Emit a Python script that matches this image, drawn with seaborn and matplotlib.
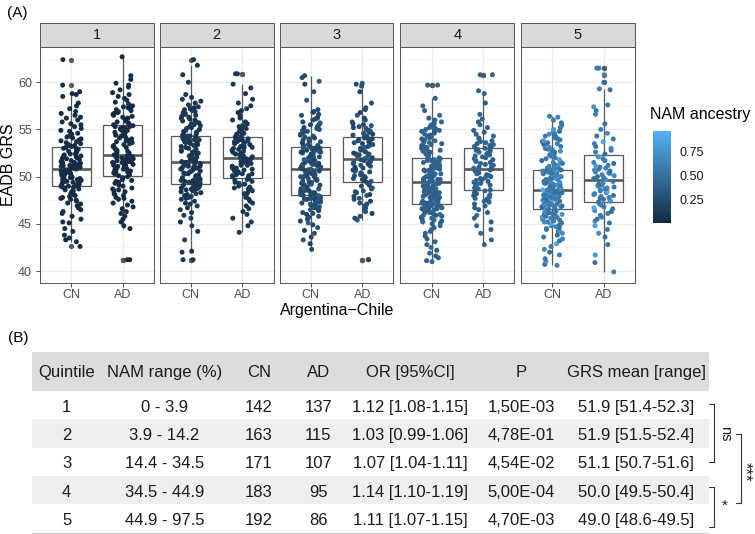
import numpy as np
import pandas as pd
import matplotlib
matplotlib.use("Agg")
import matplotlib.pyplot as plt
import seaborn as sns
from matplotlib.colors import LinearSegmentedColormap, Normalize
from matplotlib.patches import Rectangle
from matplotlib.lines import Line2D

# ---------------- data (GRS in tenths, NAM ancestry in percent) ----------------
QUINTILES = ["1", "2", "3", "4", "5"]
STATUS = ["CN", "AD"]

GRS_Q1_CN = [426,431,433,435,438,442,445,451,452,455,
             458,461,463,465,467,469,471,472,474,475,
             476,477,478,479,480,481,482,483,484,485,
             486,487,488,489,489,
             490,490,491,491,492,493,493,494,495,495,
             496,496,497,497,498,498,499,499,500,500,
             501,501,502,502,503,503,504,504,505,505,
             506,506,507,507,508,508,
             509,509,510,510,511,511,512,512,513,513,
             514,514,515,515,516,516,517,518,519,519,
             520,521,521,522,523,524,524,525,526,527,
             528,529,530,530,531,
             532,533,534,535,536,537,538,539,540,541,
             542,543,545,546,548,549,551,553,555,556,
             558,560,562,563,565,567,569,572,575,578,
             585,587,588,590,597,624]
GRS_Q1_AD = [412,412,445,448,452,455,458,461,463,466,
             468,470,472,474,476,477,478,480,481,482,
             484,485,486,487,488,490,491,493,494,495,
             496,497,499,500,
             501,502,503,504,505,505,506,507,508,508,
             509,510,511,511,512,512,513,514,514,515,
             515,516,516,517,517,518,518,519,519,520,
             520,521,521,522,
             523,524,525,526,527,528,529,530,531,532,
             533,534,535,536,537,538,539,540,541,542,
             543,544,545,546,547,548,549,550,551,552,
             552,553,553,554,
             555,556,557,558,559,560,561,562,563,564,
             565,566,567,568,569,570,571,572,573,574,
             575,577,579,581,583,585,587,589,592,595,
             597,599,603,607,627]
GRS_Q2_CN = [412,412,420,421,433,442,448,452,456,459,
             462,465,467,469,471,472,474,476,477,478,
             479,480,481,482,483,484,485,486,486,487,
             487,488,488,489,489,490,490,491,491,491,492,
             492,493,493,494,494,495,495,496,496,497,
             497,498,499,500,500,501,502,503,503,504,
             505,506,506,507,508,508,509,509,510,510,
             511,511,512,512,513,513,514,514,515,515,
             516,516,517,518,518,519,520,520,521,522,
             523,524,525,526,527,528,528,529,530,531,
             532,533,533,534,535,536,536,537,538,538,
             539,539,540,540,541,541,542,542,543,543,543,
             544,545,546,547,548,549,550,551,552,553,
             554,555,556,557,558,559,560,561,562,563,
             564,565,566,567,568,569,570,571,572,573,
             574,576,578,580,582,584,587,600,608,618,624]
GRS_Q2_AD = [441,448,452,456,460,463,466,469,472,474,
             476,478,480,482,483,485,486,487,488,489,
             490,491,492,493,494,495,496,497,498,
             499,500,501,501,502,503,503,504,505,506,
             506,507,508,509,509,510,511,512,512,513,
             514,515,516,516,517,518,519,519,
             520,521,522,523,524,524,525,526,527,528,
             529,530,531,531,532,533,534,535,535,536,
             537,537,538,538,539,539,540,540,541,
             542,543,544,545,546,547,548,549,550,551,
             552,553,554,556,558,560,562,565,568,570,
             572,575,578,582,588,594,598,609,609]
GRS_Q3_CN = [423,429,433,436,440,443,446,449,451,453,
             455,457,458,460,461,462,464,465,466,467,
             468,469,470,471,471,472,473,473,474,475,
             475,476,476,477,477,478,478,479,479,480,480,480,480,
             481,481,482,483,483,484,485,485,486,487,
             487,488,489,489,490,491,491,492,493,494,
             494,495,496,497,497,498,499,500,500,501,
             502,502,503,503,504,505,505,506,506,507,507,508,
             508,509,509,510,510,511,511,512,512,513,
             513,514,514,515,515,516,516,517,517,518,
             518,519,520,520,521,522,522,523,524,525,
             525,526,526,527,527,528,528,529,529,530,530,531,531,
             532,533,533,534,535,536,537,538,539,540,
             541,542,543,544,545,546,547,548,549,550,
             551,552,553,554,555,556,557,558,560,561,
             562,563,565,566,568,569,571,581,590,598,601,605,607]
GRS_Q3_AD = [412,412,454,456,458,461,463,465,467,469,
             471,472,474,476,477,479,480,481,483,484,
             485,487,488,490,491,493,494,
             495,496,497,498,499,500,501,502,503,504,
             505,506,507,508,509,510,511,512,513,514,
             514,515,516,517,518,518,
             519,520,521,522,523,524,524,525,526,527,
             528,529,530,531,532,533,534,535,536,537,
             537,538,539,540,540,541,541,
             542,543,544,545,546,547,548,549,550,551,
             552,553,554,555,556,558,560,562,565,568,
             571,573,578,590,596,598,599]
GRS_Q4_CN = [410,411,414,416,419,422,425,428,431,434,
             437,440,442,444,446,448,450,451,452,453,
             454,455,456,457,458,459,459,460,461,462,
             462,463,464,464,465,466,466,467,467,468,
             468,469,469,470,470,471,
             471,472,472,473,473,474,474,475,475,476,
             476,477,477,478,478,479,479,480,480,481,
             481,482,482,483,483,484,484,485,485,486,
             486,487,487,488,488,489,489,490,490,491,
             491,492,492,493,494,
             494,495,495,496,496,497,497,498,498,499,
             499,500,500,501,501,502,502,503,503,504,
             504,505,505,506,506,507,507,508,508,509,
             509,510,511,511,512,512,513,514,514,515,
             515,516,517,517,518,519,
             520,521,522,523,524,525,526,527,528,529,
             530,531,532,533,534,535,536,537,538,539,
             540,541,542,543,544,545,546,547,548,549,
             550,551,552,553,554,555,556,558,560,562,
             565,570,575,583,597,597]
GRS_Q4_AD = [428,433,440,444,448,452,456,459,462,465,
             467,469,471,473,474,476,477,478,479,480,
             481,482,483,485,
             486,487,488,489,490,491,492,493,494,495,
             496,497,498,499,500,501,502,503,504,505,
             506,507,507,
             508,509,510,511,512,513,514,515,516,517,
             518,519,520,521,522,523,524,525,526,527,
             528,529,529,530,
             531,532,533,534,535,536,537,538,540,541,
             543,545,547,549,552,555,558,561,566,578,
             588,591,608,608]
GRS_Q5_CN = [406,407,410,413,417,420,423,426,429,432,
             434,436,438,440,442,443,444,445,446,447,
             448,449,450,451,452,452,453,454,454,455,
             456,456,457,457,458,459,459,460,460,461,
             461,462,462,463,464,464,465,466,
             466,467,467,468,468,469,469,470,470,471,
             471,472,472,473,473,474,474,475,475,476,
             476,477,477,478,478,479,479,480,480,480,
             481,481,481,482,482,482,483,483,483,484,
             484,484,484,485,485,485,485,485,
             486,486,486,487,487,488,488,489,489,490,
             490,491,491,492,492,493,493,494,494,495,
             495,496,496,497,497,498,498,499,499,500,
             500,501,501,502,502,503,503,504,504,505,
             505,505,506,506,506,507,507,507,
             508,509,510,511,512,513,514,515,516,517,
             518,519,520,521,522,523,524,525,526,527,
             528,529,530,531,532,533,534,535,536,537,
             538,539,540,541,542,543,544,545,546,547,
             548,550,552,554,557,560,563,564]
GRS_Q5_AD = [399,409,417,428,436,440,444,448,451,453,
             455,457,459,461,463,464,466,467,468,470,
             471,473,
             474,475,476,477,478,479,480,481,482,483,
             484,485,486,487,488,489,490,491,492,493,
             495,
             497,498,499,500,501,502,503,504,505,506,
             507,508,509,510,511,512,514,515,517,519,
             521,
             524,526,528,530,532,535,537,540,543,546,
             550,556,566,570,574,576,592,593,600,608,
             615,615]

NAM_Q1_CN = [1,3,0,2,2,4,1,0,3,2, 1,2,3,0,1,2,2,3,1,0, 2,3,1,1,0,2,3,4,2,1,
             0,1,2,3,2,1,3,0,2,1, 3,2,1,0,2,1,3,2,0,1, 2,1,3,2,2,0,1,3,1,2,
             0,2,1,3,2,1,0,2,3,1, 2,2,1,0,3,1,2,2,1,3, 0,1,2,3,1,2,0,2,1,3,
             2,1,2,0,3,2,1,1,2,0, 3,1,2,2,1,0,3,2,1,2, 1,3,0,2,1,2,3,1,0,2,
             2,1,3,1,2,0,2,3,1,2, 1,0,2,3,2,1,3,2,1,0, 2,3]
NAM_Q1_AD = [2,1,0,3,2,1,2,3,1,0, 1,2,3,2,0,1,2,1,3,2, 0,3,1,2,2,1,0,2,3,1,
             2,1,3,0,2,2,1,3,1,2, 0,1,2,3,1,2,2,0,1,3, 2,1,0,2,3,1,2,2,1,0,
             3,2,1,2,0,1,3,2,2,1, 1,0,2,3,2,1,2,0,3,1, 2,3,1,0,2,1,2,3,1,2,
             0,2,1,3,2,1,0,2,1,3, 2,1,2,0,3,1,2,2,1,0, 3,1,2,1,0,2,3,2,1,2,
             1,2,0,3,1,2,2,1,3,0, 2,1,3,2,0,1,2]
NAM_Q2_CN = [8,5,11,7,13,6,9,4,12,10, 7,9,6,14,8,5,10,12,7,9, 11,6,8,13,5,9,7,10,12,6,
             8,4,11,9,7,13,10,6,8,12, 5,9,7,11,8,14,6,10,9,7, 12,8,5,10,13,7,9,6,11,8,
             10,7,12,5,9,8,13,6,10,11, 7,9,4,8,12,6,10,9,7,13, 8,11,6,9,5,10,12,7,8,9,
             13,6,10,8,11,7,5,9,12,8, 6,10,7,13,9,8,11,5,10,7, 12,9,6,8,14,7,10,11,8,6,
             9,13,7,10,5,8,12,9,6,11, 8,7,10,13,9,6,12,8,5,10, 11,7,9,8,13,6,10,7,12,9,
             8,5,11,10,7,9,13,6,8,12, 10,7,9]
NAM_Q2_AD = [9,6,12,8,10,5,13,7,11,9, 7,10,8,14,6,9,12,5,10,8, 11,7,9,13,6,10,8,12,7,9,
             5,11,8,10,13,7,9,6,12,8, 10,9,7,11,5,8,13,10,6,9, 12,7,8,10,11,6,9,13,7,8,
             10,5,12,9,7,11,8,6,10,13, 9,7,12,8,10,6,11,9,5,8, 13,10,7,9,12,6,8,11,10,7,
             9,14,6,10,8,12,7,9,11,5, 8,10,13,7,9,6,12,8,10,11, 7,9,8,6,12]
NAM_Q3_CN = [24,17,31,20,27,15,29,22,34,19, 26,21,30,16,25,28,18,33,23,20,
             27,31,17,24,29,21,35,19,26,22, 30,15,25,28,20,32,23,18,27,24,
             21,33,26,17,29,22,31,19,25,28, 16,23,30,20,26,34,18,27,21,24,
             29,17,32,22,25,19,28,23,31,20, 26,15,30,24,18,27,33,21,25,29,
             22,19,28,24,31,17,26,20,35,23, 27,18,30,25,21,29,16,24,32,22,
             26,19,28,23,31,20,25,17,29,27, 21,33,24,18,26,30,22,28,15,25,
             23,31,19,27,24,20,34,26,18,29, 22,25,30,17,28,21,24,32,19,26,
             27,20,23,31,16,25,29,22,28,18, 33,24,21,26,30,19,27,23,25,20,
             28,22,31,17,24,29,26,21,34,23, 25]
NAM_Q3_AD = [26,19,31,22,28,16,24,33,20,27, 23,30,18,25,29,21,34,17,26,24,
             28,20,32,23,19,27,25,30,15,22, 29,24,18,26,31,21,27,23,33,20,
             25,28,17,24,30,22,26,19,29,23, 31,18,27,25,21,34,24,20,28,26,
             16,30,23,27,19,25,32,22,28,24, 21,29,26,18,31,23,27,20,25,33,
             22,28,24,17,30,26,19,29,23,25, 21,27,32,24,18,28,26,22,30,20,
             25,23,29,19,27,24,31]
NAM_Q4_CN = [40,37,43,39,41,36,44,38,42,40, 38,41,36,43,39,42,37,40,45,38,
             41,39,43,37,40,42,36,44,39,41, 38,42,40,37,43,39,41,36,40,44,
             37,42,39,41,38,43,40,36,42,39, 41,38,44,40,37,42,39,43,41,38,
             36,40,42,39,44,37,41,40,38,43, 39,42,37,41,40,36,43,38,42,39,
             40,44,38,41,37,42,39,40,43,36, 41,38,42,40,39,44,37,41,38,42,
             39,43,40,36,41,38,42,39,44,40, 37,41,39,43,38,42,40,37,41,39,
             43,36,40,42,38,41,39,44,37,40, 42,38,41,39,43,40,36,42,38,41,
             39,44,40,37,42,39,41,38,43,40, 36,41,39,42,38,44,40,37,41,39,
             42,38,43,40,36,41,39,42,37,40, 44,38,41,39,42,40,37,43,38,41,
             39,42,40]
NAM_Q4_AD = [41,38,43,39,40,36,42,44,37,41, 39,42,38,40,43,37,41,39,45,38,
             42,40,36,41,39,43,38,42,40,37, 44,39,41,38,42,40,36,43,39,41,
             38,42,37,40,44,39,41,38,43,40, 36,42,39,41,37,40,43,38,42,39,
             41,44,37,40,38,42,39,43,41,36, 40,38,42,39,41,37,44,40,38,43,
             39,41,42,37,40,38,43,39,41,40, 36,42,39,41,38]
NAM_Q5_CN = [58,49,72,53,61,47,66,55,84,51, 63,57,48,69,52,77,60,54,46,65,
             59,50,88,56,62,71,49,53,67,58, 47,64,55,80,51,60,57,74,48,62,
             53,68,50,59,91,56,61,49,70,54, 58,46,65,52,78,57,63,50,55,69,
             60,48,73,54,59,66,51,86,56,62, 49,58,64,53,47,71,57,60,52,82,
             55,67,50,61,58,48,75,54,63,56, 51,69,59,46,65,53,93,57,60,50,
             62,55,70,48,58,66,52,79,56,61, 49,64,54,59,72,51,57,47,68,60,
             53,85,56,62,50,58,67,54,49,76, 61,55,63,52,59,70,48,57,65,53,
             60,90,51,58,66,55,49,62,73,56, 50,64,58,47,81,54,61,59,68,52,
             57,63,49,71,55,60,53,66,58,87, 51,62,56,48,74,59,54,65,50,61,
             57,69,53,60,48,77,55,63,52,58, 64,56]
NAM_Q5_AD = [60,52,74,56,49,67,58,83,54,63, 50,71,57,61,48,65,55,89,59,53,
             68,51,62,78,56,47,64,58,52,70, 60,55,85,49,66,57,61,53,72,59,
             50,63,56,76,54,58,48,67,62,92, 55,60,51,69,57,64,53,81,58,49,
             66,56,61,73,52,59,55,65,50,62, 87,57,54,68,60,51,63,58,75,56,
             53,61,49,66,59,57]

GRS_SETS = [(GRS_Q1_CN, GRS_Q1_AD), (GRS_Q2_CN, GRS_Q2_AD), (GRS_Q3_CN, GRS_Q3_AD),
            (GRS_Q4_CN, GRS_Q4_AD), (GRS_Q5_CN, GRS_Q5_AD)]
NAM_SETS = [(NAM_Q1_CN, NAM_Q1_AD), (NAM_Q2_CN, NAM_Q2_AD), (NAM_Q3_CN, NAM_Q3_AD),
            (NAM_Q4_CN, NAM_Q4_AD), (NAM_Q5_CN, NAM_Q5_AD)]

# table content
TABLE_HEADER = ["Quintile", "NAM range (%)", "CN", "AD", "OR [95%CI]", "P", "GRS mean [range]"]
NAM_RANGE = ["0 - 3.9", "3.9 - 14.2", "14.4 - 34.5", "34.5 - 44.9", "44.9 - 97.5"]
N_CN = [142, 163, 171, 183, 192]
N_AD = [137, 115, 107, 95, 86]
OR_CI = ["1.12 [1.08-1.15]", "1.03 [0.99-1.06]", "1.07 [1.04-1.11]", "1.14 [1.10-1.19]", "1.11 [1.07-1.15]"]
P_VAL = ["1,50E-03", "4,78E-01", "4,54E-02", "5,00E-04", "4,70E-03"]
GRS_MEAN = ["51.9 [51.4-52.3]", "51.9 [51.5-52.4]", "51.1 [50.7-51.6]", "50.0 [49.5-50.4]", "49.0 [48.6-49.5]"]

records = []
for q, (gc, ga), (nc, na) in zip(QUINTILES, GRS_SETS, NAM_SETS):
    for g, n in zip(gc, nc):
        records.append((q, "CN", g / 10.0, n / 100.0))
    for g, n in zip(ga, na):
        records.append((q, "AD", g / 10.0, n / 100.0))
df = pd.DataFrame(records, columns=["quintile", "status", "grs", "nam"])

# ---------------- styling ----------------
sns.set_theme(style="white")
plt.rcParams["font.family"] = ["Liberation Sans", "DejaVu Sans"]

W, H = 755, 534
fig = plt.figure(figsize=(W / 100, H / 100), dpi=100)
fig.patch.set_facecolor("white")


def rect(x, y, w, h):
    return [x / W, 1 - (y + h) / H, w / W, h / H]


def fx(x):
    return x / W


def fy(y):
    return 1 - y / H


cmap = LinearSegmentedColormap.from_list("nam", ["#132B43", "#56B1F7"])
NORM = (0.0, 0.975)
BOX_C = "#595959"
EDGE_C = "#555555"

panel_x = [40, 159.5, 279.5, 400.5, 521]
PW = 114
P_TOP, P_H = 46.7, 236.6

for i, q in enumerate(QUINTILES):
    ax = fig.add_axes(rect(panel_x[i], P_TOP, PW, P_H))
    sub = df[df["quintile"] == q]
    sns.boxplot(data=sub, x="status", y="grs", order=STATUS, ax=ax, width=0.75,
                color="white", linecolor=BOX_C, linewidth=0.9, showcaps=False,
                flierprops=dict(marker="o", markerfacecolor=BOX_C, markeredgecolor=BOX_C,
                                markersize=3.8, markeredgewidth=0),
                medianprops=dict(linewidth=1.9, color=BOX_C))
    sns.stripplot(data=sub, x="status", y="grs", order=STATUS, hue="nam", palette=cmap,
                  hue_norm=NORM, jitter=0.2, size=3.6, legend=False, ax=ax,
                  zorder=3, linewidth=0)
    ax.set_xlim(-0.6, 1.6)
    ax.set_ylim(38.70, 63.77)
    ax.set_xlabel("")
    ax.set_ylabel("")
    ax.set_yticks([40, 45, 50, 55, 60])
    ax.set_yticks(np.arange(42.5, 63, 5), minor=True)
    ax.set_axisbelow(True)
    ax.grid(True, which="major", color="#EBEBEB", lw=0.9)
    ax.grid(True, which="minor", axis="y", color="#F3F3F3", lw=0.5)
    ax.tick_params(axis="x", bottom=True, length=2.75, width=0.6, color="#333333",
                   labelsize=9, labelcolor="#4D4D4D", pad=1.2, direction="out")
    ax.tick_params(axis="y", which="minor", left=False)
    if i == 0:
        ax.tick_params(axis="y", which="major", left=True, length=2.75, width=0.6,
                       color="#333333", labelsize=9, labelcolor="#4D4D4D", pad=3)
    else:
        ax.tick_params(axis="y", which="major", left=False, labelleft=False)
    for s in ax.spines.values():
        s.set_visible(True)
        s.set_color(EDGE_C)
        s.set_linewidth(0.7)

    sax = fig.add_axes(rect(panel_x[i], 22.7, PW, 24))
    sax.set_facecolor("#D9D9D9")
    sax.set_xticks([])
    sax.set_yticks([])
    for s in sax.spines.values():
        s.set_visible(True)
        s.set_color(EDGE_C)
        s.set_linewidth(0.7)
    sax.text(0.5, 0.5, q, ha="center", va="center", fontsize=10.5, color="#1A1A1A",
             transform=sax.transAxes)

fig.text(fx(337.5), fy(310), "Argentina\u2212Chile", ha="center", va="center",
         fontsize=11.5, color="black")
fig.text(fx(8.5), fy(165), "EADB GRS", rotation=90, ha="center", va="center",
         fontsize=11.5, color="black")
fig.text(fx(17), fy(13.3), "(A)", ha="center", va="center", fontsize=11, color="black")
fig.text(fx(18), fy(338), "(B)", ha="center", va="center", fontsize=11, color="black")

# colour bar legend
cax = fig.add_axes(rect(652.7, 130.7, 18, 92))
sm = plt.cm.ScalarMappable(norm=Normalize(*NORM), cmap=cmap)
cb = fig.colorbar(sm, cax=cax, ticks=[0.25, 0.5, 0.75])
cb.outline.set_visible(False)
cb.ax.set_yticklabels(["0.25", "0.50", "0.75"])
cb.ax.tick_params(axis="y", which="both", direction="in", length=3.2, width=0.6,
                  color="white", left=True, right=True, labelleft=False,
                  labelright=True, labelsize=9.1, labelcolor="#1A1A1A", pad=6)
cb.ax.minorticks_off()
fig.text(fx(650), fy(115), "NAM ancestry", ha="left", va="center", fontsize=11.5,
         color="black")

# ---------------- table (B) ----------------
TX0, TX1 = 31.7, 709.3
HDR_TOP, HDR_BOT = 351.7, 391.0
ROW_H = 28.3
col_x = [66.7, 164.3, 259, 318.3, 410, 521, 636]
TFS = 12

fig.add_artist(Rectangle((fx(TX0), fy(HDR_BOT)), (TX1 - TX0) / W, (HDR_BOT - HDR_TOP) / H,
                         transform=fig.transFigure, facecolor="#DCDCDC", edgecolor="none"))
for k in (1, 3):
    top = HDR_BOT + k * ROW_H
    fig.add_artist(Rectangle((fx(TX0), fy(top + ROW_H)), (TX1 - TX0) / W, ROW_H / H,
                             transform=fig.transFigure, facecolor="#EFEFEF",
                             edgecolor="none"))
bot = HDR_BOT + 5 * ROW_H
fig.add_artist(Rectangle((fx(TX0), fy(bot + 2)), (TX1 - TX0) / W, 2 / H,
                         transform=fig.transFigure, facecolor="#D0D0D0", edgecolor="none"))

hdr_y = (HDR_TOP + HDR_BOT) / 2 + 1.5
for x, t in zip(col_x, TABLE_HEADER):
    fig.text(fx(x), fy(hdr_y), t, ha="center", va="center", fontsize=TFS, color="#1A1A1A")

for r in range(5):
    yc = HDR_BOT + r * ROW_H + ROW_H / 2 + 2
    vals = [QUINTILES[r], NAM_RANGE[r], str(N_CN[r]), str(N_AD[r]), OR_CI[r], P_VAL[r],
            GRS_MEAN[r]]
    for x, t in zip(col_x, vals):
        fig.text(fx(x), fy(yc), t, ha="center", va="center", fontsize=TFS, color="#1A1A1A")

# significance brackets
LC = "#333333"


def seg(x0, y0, x1, y1):
    fig.add_artist(Line2D([fx(x0), fx(x1)], [fy(y0), fy(y1)], transform=fig.transFigure,
                          color=LC, lw=0.8))


# ns bracket (rows 1-3)
seg(709.3, 404, 713.5, 404)
seg(713.5, 404, 713.5, 461.7)
seg(709.3, 461.7, 713.5, 461.7)
fig.text(fx(725), fy(433.3), "ns", rotation=-90, ha="center", va="center", fontsize=10.5,
         color="#1A1A1A")
# * bracket (rows 4-5)
seg(709.3, 486.7, 713.5, 486.7)
seg(713.5, 486.7, 713.5, 526.7)
seg(709.3, 526.7, 713.5, 526.7)
fig.text(fx(724.3), fy(506), "*", ha="center", va="center", fontsize=11, color="#1A1A1A")
# *** bracket joining ns and *
seg(735.7, 433.8, 740.7, 433.8)
seg(740.7, 433.8, 740.7, 502.7)
seg(735.7, 502.7, 740.7, 502.7)
fig.text(fx(745.5), fy(471.7), "***", rotation=-90, ha="center", va="center", fontsize=12,
         color="#1A1A1A")

fig.savefig("out.png", dpi=100, facecolor="white")
